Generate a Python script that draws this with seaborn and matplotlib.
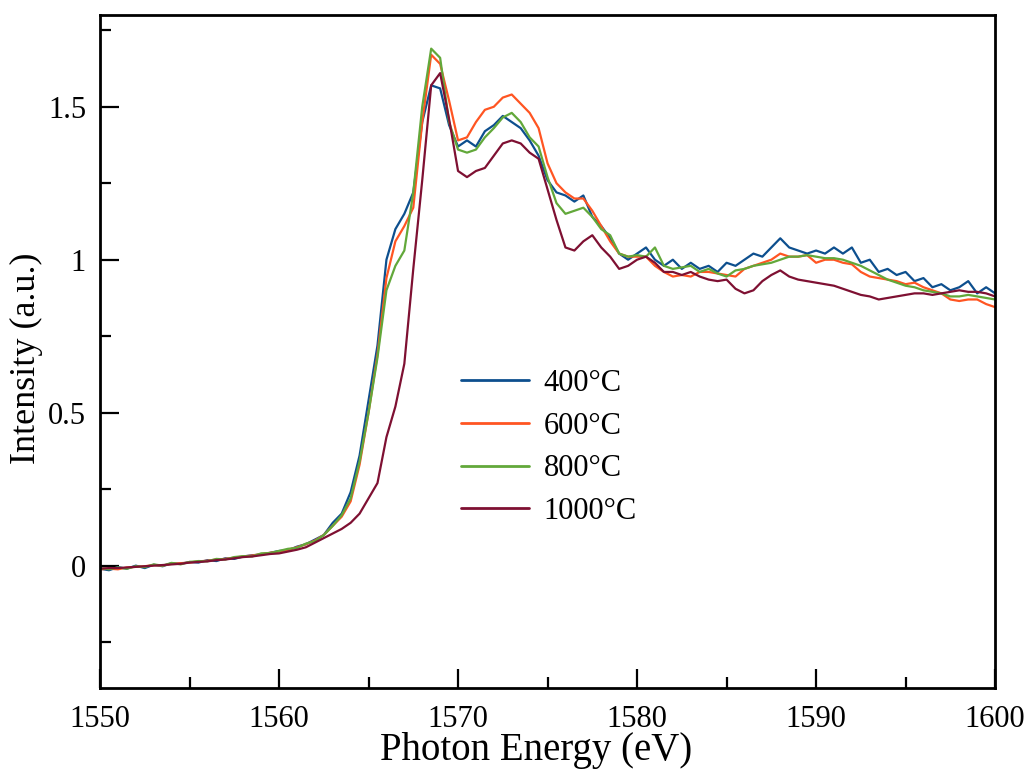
import numpy as np
import pandas as pd
import seaborn as sns
import matplotlib.pyplot as plt
from matplotlib.ticker import MultipleLocator, FuncFormatter

# photon energy grid (eV), 0.5 eV steps
energy = [
    1550.0, 1550.5, 1551.0, 1551.5, 1552.0, 1552.5, 1553.0, 1553.5, 1554.0, 1554.5,
    1555.0, 1555.5, 1556.0, 1556.5, 1557.0, 1557.5, 1558.0, 1558.5, 1559.0, 1559.5,
    1560.0, 1560.5, 1561.0, 1561.5, 1562.0, 1562.5, 1563.0, 1563.5, 1564.0, 1564.5,
    1565.0, 1565.5, 1566.0, 1566.5, 1567.0, 1567.5, 1568.0, 1568.5, 1569.0, 1569.5,
    1570.0, 1570.5, 1571.0, 1571.5, 1572.0, 1572.5, 1573.0, 1573.5, 1574.0, 1574.5,
    1575.0, 1575.5, 1576.0, 1576.5, 1577.0, 1577.5, 1578.0, 1578.5, 1579.0, 1579.5,
    1580.0, 1580.5, 1581.0, 1581.5, 1582.0, 1582.5, 1583.0, 1583.5, 1584.0, 1584.5,
    1585.0, 1585.5, 1586.0, 1586.5, 1587.0, 1587.5, 1588.0, 1588.5, 1589.0, 1589.5,
    1590.0, 1590.5, 1591.0, 1591.5, 1592.0, 1592.5, 1593.0, 1593.5, 1594.0, 1594.5,
    1595.0, 1595.5, 1596.0, 1596.5, 1597.0, 1597.5, 1598.0, 1598.5, 1599.0, 1599.5,
    1600.0,
]

t400 = [
    -0.010, -0.015, -0.005, -0.010, 0.000, -0.008, 0.003, -0.002, 0.008, 0.006,
    0.012, 0.010, 0.018, 0.015, 0.024, 0.022, 0.030, 0.034, 0.036, 0.042,
    0.048, 0.050, 0.062, 0.070, 0.085, 0.100, 0.140, 0.170, 0.240, 0.360,
    0.540, 0.720, 1.000, 1.100, 1.150, 1.220, 1.450, 1.570, 1.560, 1.440,
    1.370, 1.390, 1.370, 1.420, 1.440, 1.470, 1.450, 1.430, 1.390, 1.340,
    1.260, 1.220, 1.210, 1.190, 1.210, 1.140, 1.110, 1.070, 1.020, 1.000,
    1.020, 1.040, 1.000, 0.980, 1.000, 0.970, 0.990, 0.970, 0.980, 0.960,
    0.990, 0.980, 1.000, 1.020, 1.010, 1.040, 1.070, 1.040, 1.030, 1.020,
    1.030, 1.020, 1.040, 1.020, 1.040, 0.990, 1.000, 0.960, 0.970, 0.950,
    0.960, 0.930, 0.940, 0.910, 0.920, 0.900, 0.910, 0.930, 0.890, 0.910,
    0.890,
]

t600 = [
    -0.012, -0.010, -0.012, -0.006, -0.004, -0.002, 0.002, 0.000, 0.006, 0.008,
    0.010, 0.014, 0.016, 0.020, 0.022, 0.026, 0.030, 0.033, 0.038, 0.042,
    0.046, 0.052, 0.060, 0.070, 0.082, 0.100, 0.130, 0.160, 0.210, 0.330,
    0.500, 0.690, 0.940, 1.060, 1.110, 1.170, 1.450, 1.670, 1.640, 1.520,
    1.390, 1.400, 1.450, 1.490, 1.500, 1.530, 1.540, 1.510, 1.480, 1.430,
    1.315, 1.250, 1.220, 1.200, 1.200, 1.160, 1.110, 1.060, 1.020, 1.010,
    1.010, 1.010, 0.980, 0.960, 0.945, 0.950, 0.945, 0.960, 0.960, 0.955,
    0.950, 0.945, 0.970, 0.980, 0.990, 1.000, 1.020, 1.010, 1.010, 1.015,
    0.990, 1.000, 1.000, 0.990, 0.985, 0.960, 0.945, 0.940, 0.935, 0.930,
    0.920, 0.925, 0.910, 0.900, 0.890, 0.870, 0.865, 0.870, 0.870, 0.855,
    0.845,
]

t800 = [
    -0.008, -0.012, -0.006, -0.010, -0.002, -0.005, 0.004, 0.000, 0.009, 0.004,
    0.012, 0.015, 0.014, 0.022, 0.020, 0.028, 0.031, 0.030, 0.040, 0.041,
    0.048, 0.055, 0.058, 0.072, 0.080, 0.100, 0.130, 0.165, 0.220, 0.340,
    0.500, 0.680, 0.900, 0.980, 1.030, 1.220, 1.500, 1.690, 1.660, 1.450,
    1.360, 1.350, 1.360, 1.400, 1.430, 1.465, 1.480, 1.450, 1.400, 1.370,
    1.270, 1.185, 1.150, 1.160, 1.170, 1.140, 1.100, 1.080, 1.020, 1.010,
    1.015, 1.010, 1.040, 0.980, 0.970, 0.975, 0.980, 0.960, 0.970, 0.955,
    0.945, 0.965, 0.970, 0.980, 0.985, 0.990, 1.000, 1.010, 1.010, 1.015,
    1.010, 1.005, 1.005, 1.000, 0.990, 0.980, 0.965, 0.950, 0.935, 0.925,
    0.915, 0.910, 0.900, 0.895, 0.890, 0.880, 0.880, 0.885, 0.880, 0.875,
    0.870,
]

t1000 = [
    -0.010, -0.008, -0.008, -0.006, -0.004, -0.002, 0.000, 0.002, 0.004, 0.006,
    0.010, 0.012, 0.014, 0.018, 0.020, 0.024, 0.028, 0.030, 0.034, 0.038,
    0.040, 0.046, 0.052, 0.060, 0.075, 0.090, 0.105, 0.120, 0.140, 0.170,
    0.220, 0.270, 0.420, 0.520, 0.660, 0.970, 1.260, 1.570, 1.610, 1.460,
    1.290, 1.270, 1.290, 1.300, 1.340, 1.380, 1.390, 1.380, 1.350, 1.330,
    1.230, 1.130, 1.040, 1.030, 1.060, 1.080, 1.040, 1.010, 0.970, 0.980,
    1.000, 1.010, 0.990, 0.960, 0.960, 0.950, 0.960, 0.945, 0.935, 0.930,
    0.935, 0.905, 0.890, 0.900, 0.930, 0.950, 0.965, 0.945, 0.935, 0.930,
    0.925, 0.920, 0.915, 0.905, 0.895, 0.885, 0.880, 0.870, 0.875, 0.880,
    0.885, 0.890, 0.890, 0.885, 0.890, 0.895, 0.900, 0.895, 0.895, 0.890,
    0.880,
]

labels = ["400°C", "600°C", "800°C", "1000°C"]
colors = ["#0d4f8e", "#ff5522", "#62a83a", "#7e1032"]

series = [t400, t600, t800, t1000]
df = pd.concat([
    pd.DataFrame({"energy": energy, "intensity": vals, "temp": lab})
    for lab, vals in zip(labels, series)
])

sns.set_style("ticks")
plt.rcParams["font.family"] = ["Liberation Serif", "DejaVu Serif"]
for key in ["text.color", "axes.labelcolor", "xtick.color", "ytick.color", "axes.edgecolor"]:
    plt.rcParams[key] = "black"

fig = plt.figure(figsize=(10.3, 7.76), dpi=100)
ax = fig.add_axes([0.0971, 0.1134, 0.869, 0.8673])

sns.lineplot(data=df, x="energy", y="intensity", hue="temp",
             palette=dict(zip(labels, colors)), estimator=None, sort=False,
             linewidth=1.6, ax=ax)

ax.set_xlim(1550, 1600)
ax.set_ylim(-0.4, 1.8)
ax.xaxis.set_major_locator(MultipleLocator(10))
ax.xaxis.set_minor_locator(MultipleLocator(5))
ax.yaxis.set_major_locator(MultipleLocator(0.5))
ax.yaxis.set_minor_locator(MultipleLocator(0.25))
ax.yaxis.set_major_formatter(FuncFormatter(lambda v, p: f"{v:g}"))

ax.tick_params(which="both", direction="in", width=1.6, labelsize=22)
ax.tick_params(axis="x", pad=12)
ax.tick_params(axis="y", pad=10)
ax.tick_params(which="major", length=14)
ax.tick_params(which="minor", length=8)
for s in ax.spines.values():
    s.set_linewidth(2)

ax.set_xlabel("Photon Energy (eV)", fontsize=28)
ax.xaxis.set_label_coords(0.487, -0.066)
ax.set_ylabel("Intensity (a.u.)", fontsize=26)
ax.yaxis.set_label_coords(-0.064, 0.49)

leg = ax.legend(loc="upper left", bbox_to_anchor=(0.373, 0.515), frameon=False,
                fontsize=22, handlelength=2.2, labelspacing=0.45, handletextpad=0.5)
for ln in leg.get_lines():
    ln.set_linewidth(2)

fig.savefig("out.png", dpi=100)
